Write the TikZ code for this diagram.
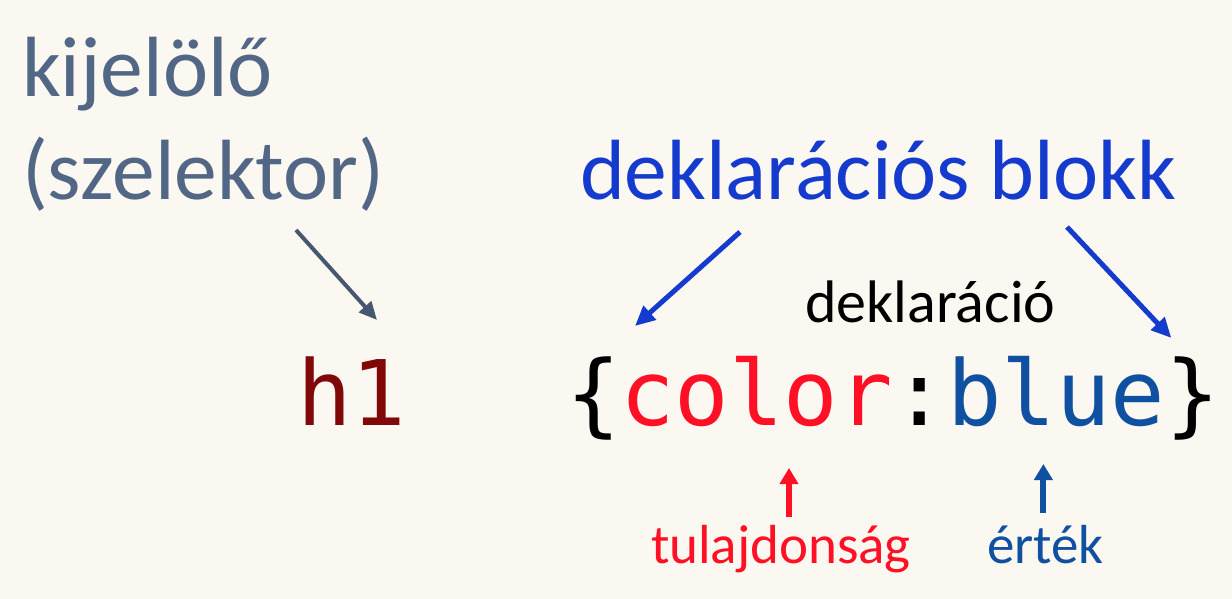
\documentclass[tikz,border=0pt]{standalone}
\usepackage{fontspec}
\setmainfont{Carlito}
\newfontfamily\codefont{DejaVu Sans Mono}
\usepackage{xcolor}
\usetikzlibrary{positioning,arrows.meta}

\definecolor{bgcream}{RGB}{250,248,240}
\definecolor{selslate}{RGB}{82,103,134}
\definecolor{selarrowc}{RGB}{70,88,112}
\definecolor{blkblue}{RGB}{20,58,206}
\definecolor{propred}{RGB}{255,16,36}
\definecolor{valblue}{RGB}{16,80,160}
\definecolor{tagred}{RGB}{128,8,8}

\begin{document}
\begin{tikzpicture}[
    x                  = 1pt,
    y                  = -1pt,
    every node/.style  = {inner sep=0pt, outer sep=0pt},
    bigtext/.style     = {font=\fontsize{85.5}{100}\selectfont, anchor=base west},
    smalltext/.style   = {font=\fontsize{55}{66}\selectfont, anchor=base west},
    code/.style        = {font=\codefont\fontsize{90.5}{100}\selectfont, anchor=base west},
    selarrow/.style    = {draw=selarrowc, line width=4pt, -{Triangle[length=18pt,width=16pt]}},
    blkarrow/.style    = {draw=blkblue, line width=5pt, -{Triangle[length=20pt,width=18pt]}},
    uparrow/.style     = {line width=6pt, -{Triangle[length=16pt,width=18pt]}}
  ]
\useasboundingbox[fill=bgcream] (0,0) rectangle (1232,599);

% kijelolo
\node[bigtext, text=selslate] (kij)  at (22,97)  {kijelölő};
\node[bigtext, text=selslate] (szel) at (22,200) {(szelektor)};
\node[bigtext, text=blkblue]  (blok) at (580,200) {deklarációs blokk};
\node[smalltext, font=\fontsize{60}{70}\selectfont] (dekl) at (805,322) {deklaráció};

% h1 {color:blue}
\node[code, text=tagred] (h1) at (297,425) {h1};
\node[code] (lbr) at (566,425) {\{};
\node[code, text=propred, base right=0pt of lbr]  (prop)  {color};
\node[code, base right=0pt of prop]               (colon) {:};
\node[code, text=valblue, base right=0pt of colon] (val)  {blue};
\node[code, base right=0pt of val]                (rbr)   {\}};

\node[smalltext, text=propred] (tul) at (651,563) {tulajdonság};
\node[smalltext, text=valblue] (ert) at (987,563) {érték};

% nyilak
\draw[selarrow] ([xshift=274pt,yshift=-30pt]szel.base west) -- ([xshift=80pt,yshift=105pt]h1.base west);
\draw[blkarrow] ([xshift=160pt,yshift=-32pt]blok.base west) -- ([xshift=69pt,yshift=99pt]lbr.base west);
\draw[blkarrow] ([xshift=487pt,yshift=-27pt]blok.base west) -- ([xshift=6pt,yshift=87pt]rbr.base west);
\draw[uparrow, draw=propred, fill=propred] ([xshift=8pt,yshift=46pt]tul.base) -- ([xshift=8pt,yshift=95pt]tul.base);
\draw[uparrow, draw=valblue, fill=valblue] ([xshift=-2pt,yshift=50pt]ert.base) -- ([xshift=-2pt,yshift=99pt]ert.base);
\end{tikzpicture}
\end{document}
